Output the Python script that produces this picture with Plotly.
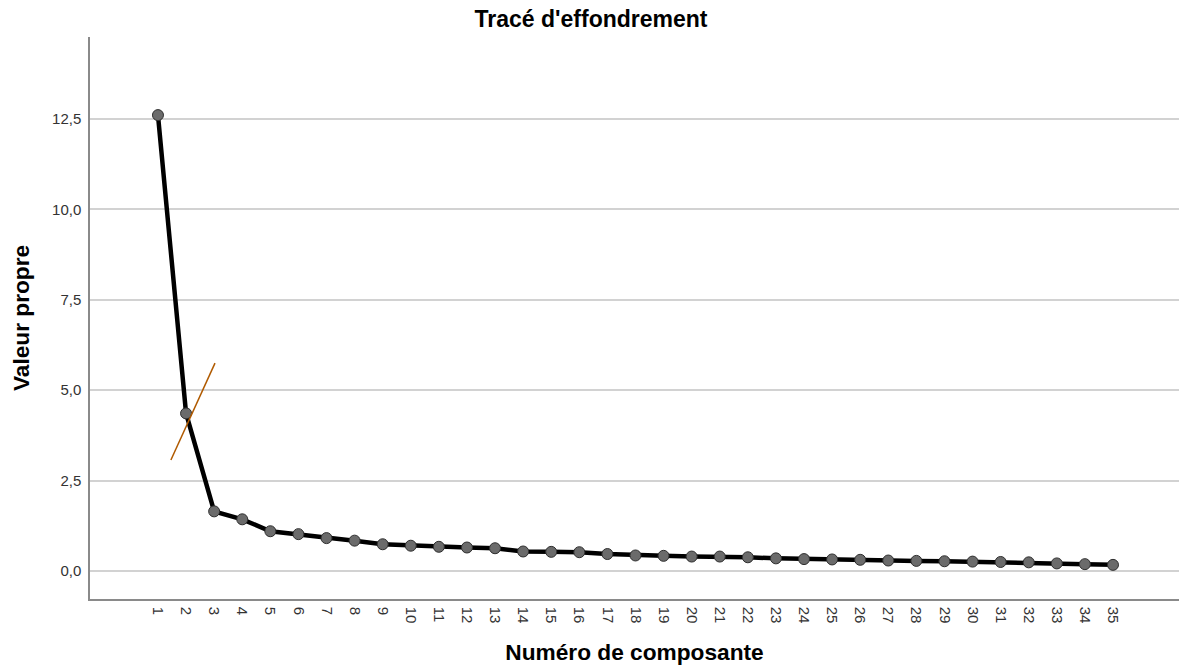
import plotly.graph_objects as go

# Data
components = list(range(1, 36))
eigenvalues = [12.61, 4.36, 1.65, 1.43, 1.10, 1.02, 0.91, 0.84, 0.74, 0.70,
               0.67, 0.65, 0.63, 0.54, 0.53, 0.52, 0.47, 0.43, 0.42, 0.40,
               0.40, 0.38, 0.35, 0.33, 0.32, 0.31, 0.29, 0.28, 0.27, 0.26,
               0.25, 0.24, 0.21, 0.19, 0.17]
tick_labels = [str(c) for c in components]
y_ticks = [0, 2.5, 5, 7.5, 10, 12.5]

# hand-drawn elbow marker line (data coordinates)
elbow_x = [1.46, 3.03]
elbow_y = [3.07, 5.75]

fig = go.Figure()
fig.add_trace(go.Scatter(
    x=components, y=eigenvalues, mode="lines+markers",
    line=dict(color="black", width=4.5),
    marker=dict(size=11, color="#6b6b6b", line=dict(color="#2e2e2e", width=1)),
    showlegend=False, hoverinfo="x+y"))
fig.add_trace(go.Scatter(
    x=elbow_x, y=elbow_y, mode="lines",
    line=dict(color="#B05A00", width=1.5),
    showlegend=False, hoverinfo="skip"))

font_family = "Liberation Sans, Arial, sans-serif"
fig.update_layout(
    width=1179, height=670,
    margin=dict(l=90, r=0, t=37, b=71),
    paper_bgcolor="white", plot_bgcolor="white",
    separators=", ",
    font=dict(family=font_family, color="black"),
    title=dict(text="<b>Tracé d'effondrement</b>", x=591 / 1179, xref="container",
               xanchor="center", y=1 - 19 / 670, yref="container", yanchor="middle",
               font=dict(size=23, color="black")),
    xaxis=dict(
        range=[-1.42, 37.35], tickmode="array", tickvals=components, ticktext=tick_labels,
        tickangle=90, showgrid=False, zeroline=False,
        showline=True, linecolor="#8a8a8a", linewidth=1.5,
        ticks="", ticklabelstandoff=3,
        tickfont=dict(size=15, color="#333333"),
        title=dict(text="<b>Numéro de composante</b>", font=dict(size=22.7, color="black"),
                   standoff=22),
        automargin=False),
    yaxis=dict(
        range=[-0.774, 14.77], tickmode="array", tickvals=y_ticks,
        tickformat=".1f", showgrid=True, gridcolor="#d2d2d2", gridwidth=1.5,
        zeroline=False, showline=True, linecolor="#8a8a8a", linewidth=1.5,
        ticks="", ticklabelstandoff=4,
        tickfont=dict(size=15, color="#333333"),
        title=dict(text="<b>Valeur propre</b>", font=dict(size=22.7, color="black"),
                   standoff=16),
        automargin=False),
)

fig.write_html("out.html", config={"displayModeBar": False},
               post_script="document.body.style.margin='0';document.body.style.overflow='hidden';")
